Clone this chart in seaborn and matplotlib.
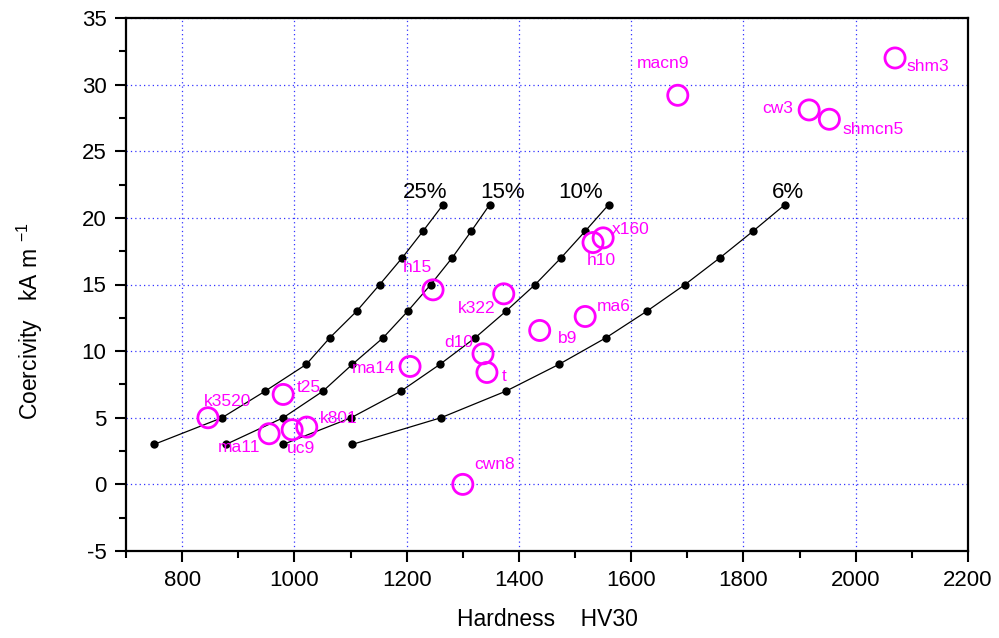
import numpy as np
import pandas as pd
import seaborn as sns
from matplotlib import pyplot as plt
from matplotlib.ticker import MultipleLocator

sns.set_style('ticks')
plt.rcParams['font.family'] = ['Liberation Sans', 'DejaVu Sans']
plt.rcParams['mathtext.fontset'] = 'custom'
plt.rcParams['mathtext.rm'] = 'Liberation Sans'
plt.rcParams['mathtext.default'] = 'regular'
plt.rcParams['axes.unicode_minus'] = False
plt.rcParams['text.color'] = 'black'
plt.rcParams['xtick.color'] = 'black'
plt.rcParams['ytick.color'] = 'black'

# model curves: coercivity vs hardness for a given retained austenite level
curve_names = ['25%', '15%', '10%', '6%']
hc_curve = [3, 5, 7, 9, 11, 13, 15, 17, 19, 21]
hv25 = [750, 871, 948, 1021, 1063, 1111, 1152, 1192, 1229, 1265]
hv15 = [878, 980, 1051, 1103, 1158, 1202, 1243, 1281, 1315, 1348]
hv10 = [980, 1101, 1190, 1259, 1322, 1377, 1429, 1475, 1518, 1560]
hv6 = [1103, 1261, 1377, 1471, 1555, 1628, 1696, 1758, 1817, 1874]
curve_label_hv = [1233, 1370, 1510, 1879]

# measured samples
names = ['k3520', 't25', 'ma11', 'uc9', 'k801', 'ma14', 'h15', 'k322', 'd10', 't',
         'b9', 'ma6', 'h10', 'x160', 'cwn8', 'macn9', 'cw3', 'shmcn5', 'shm3']
hv = [846, 980, 955, 996, 1022, 1206, 1247, 1373, 1336, 1343,
      1437, 1518, 1532, 1550, 1300, 1683, 1917, 1953, 2070]
hc = [5.0, 6.75, 3.8, 4.1, 4.3, 8.85, 14.6, 14.3, 9.8, 8.4,
      11.55, 12.6, 18.15, 18.5, 0.0, 29.2, 28.1, 27.4, 32.0]

# label placement (pixel offsets from the circle, alignment)
offsets = {
    'k3520': (-4, 16, 'left'), 't25': (14, 7, 'left'), 'ma11': (-9, -14, 'right'),
    'uc9': (-5, -19, 'left'), 'k801': (13, 9, 'left'), 'ma14': (-15, -2, 'right'),
    'h15': (-30, 22, 'left'), 'k322': (-8, -15, 'right'), 'd10': (-10, 11, 'right'),
    't': (15, -4, 'left'), 'b9': (18, -8, 'left'), 'ma6': (12, 10, 'left'),
    'h10': (-6, -18, 'left'), 'x160': (9, 8, 'left'), 'cwn8': (11, 20, 'left'),
    'macn9': (-41, 32, 'left'), 'cw3': (-16, 1, 'right'), 'shmcn5': (13, -10, 'left'),
    'shm3': (11, -9, 'left'),
}

curves = pd.concat([
    pd.DataFrame({'HV': x, 'Hc': hc_curve, 'RA': n})
    for n, x in zip(curve_names, [hv25, hv15, hv10, hv6])
])
samples = pd.DataFrame({'HV': hv, 'Hc': hc, 'name': names})

fig = plt.figure(figsize=(9.99, 6.38), dpi=100)
ax = fig.add_axes([126 / 999, 1 - 551 / 638, 842 / 999, 533 / 638])

sns.lineplot(data=curves, x='HV', y='Hc', hue='RA', units='RA', estimator=None,
             sort=False, palette=['black'] * 4, marker='o', markersize=6,
             markeredgewidth=0, linewidth=0.9, legend=False, ax=ax, zorder=3)
sns.scatterplot(data=samples, x='HV', y='Hc', s=210, facecolor='none',
                edgecolor='#ff00ff', linewidth=2, legend=False, ax=ax, zorder=4)

for n, x in zip(curve_names, curve_label_hv):
    ax.text(x, 21.9, n, fontsize=16, ha='center', va='center', color='black')

for n, x, y in zip(names, hv, hc):
    dx, dy, ha = offsets[n]
    ax.annotate(n, (x, y), xytext=(dx, dy), textcoords='offset pixels',
                ha=ha, va='center', fontsize=12.5, color='#ff00ff', zorder=5)

ax.set_xlim(700, 2200)
ax.set_ylim(-5, 35)
ax.xaxis.set_major_locator(MultipleLocator(200))
ax.xaxis.set_minor_locator(MultipleLocator(100))
ax.yaxis.set_major_locator(MultipleLocator(5))
ax.yaxis.set_minor_locator(MultipleLocator(2.5))
ax.grid(True, which='major', color='#3333ff', linestyle=(0, (1, 2.5)), linewidth=0.9)
ax.set_axisbelow(True)
for s in ax.spines.values():
    s.set_linewidth(1.6)
    s.set_color('black')
ax.tick_params(which='major', direction='out', length=8, width=1.5, labelsize=16, pad=6)
ax.tick_params(which='minor', direction='out', length=5, width=1.5)
ax.set_xlabel('')
ax.set_ylabel('')
fig.text(547 / 999, 1 - 620 / 638, 'Hardness    HV30', fontsize=16.5, ha='center', va='center')
fig.text(30 / 999, 1 - 321 / 638, 'Coercivity   kA m $^{-1}$', fontsize=16.5,
         rotation=90, ha='center', va='center')

fig.savefig('out.png', dpi=100)
